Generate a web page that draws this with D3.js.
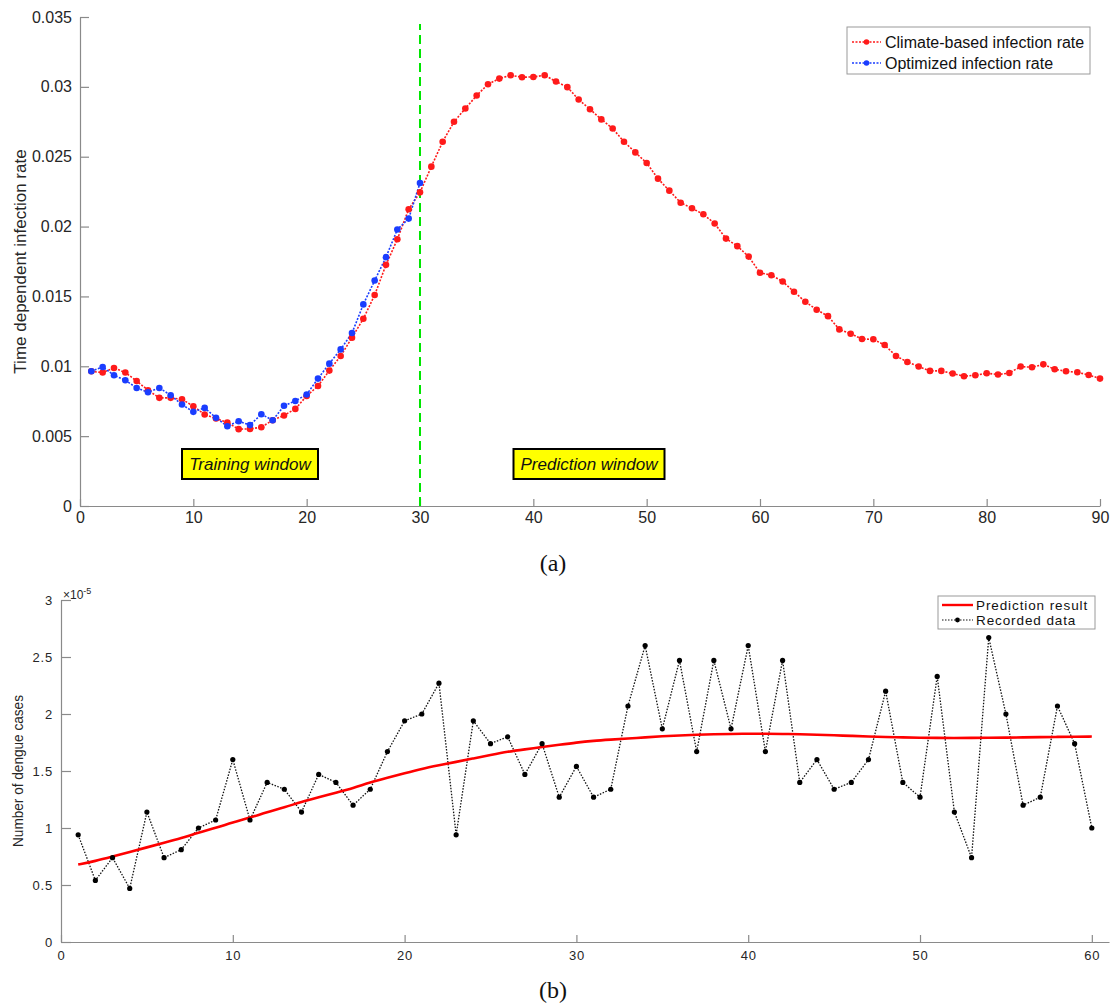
<!DOCTYPE html>
<html>
<head>
<meta charset="utf-8">
<script src="https://cdn.jsdelivr.net/npm/d3@7.9.0/dist/d3.min.js"></script>
<style>
  body { margin: 0; background: #fff; }
  svg { font-family: "Liberation Sans", Arial, sans-serif; }
</style>
</head>
<body>
<div id="chart"></div>
<script>
// ---- data, panel (a) ----
const daysA = d3.range(1, 91);
const daysTrain = d3.range(1, 31);
const climateRate = [
  0.00964, 0.00955, 0.00988, 0.00955, 0.00895, 0.00829, 0.00774, 0.00774, 0.00764, 0.00714,
  0.00655, 0.00626, 0.00598, 0.00550, 0.00552, 0.00564, 0.00614, 0.00648, 0.00695, 0.00788,
  0.00859, 0.00969, 0.01074, 0.01205, 0.01340, 0.01510, 0.01726, 0.01909, 0.02124, 0.02245,
  0.02429, 0.02607, 0.02750, 0.02845, 0.02938, 0.03019, 0.03059, 0.03083, 0.03069, 0.03071,
  0.03083, 0.03038, 0.02998, 0.02909, 0.02840, 0.02767, 0.02702, 0.02607, 0.02531, 0.02455,
  0.02343, 0.02257, 0.02171, 0.02131, 0.02088, 0.02022, 0.01914, 0.01860, 0.01785, 0.01669,
  0.01652, 0.01607, 0.01533, 0.01462, 0.01405, 0.01359, 0.01264, 0.01233, 0.01195, 0.01193,
  0.01152, 0.01074, 0.01031, 0.00998, 0.00967, 0.00967, 0.00948, 0.00929, 0.00936, 0.00950,
  0.00941, 0.00952, 0.00998, 0.00993, 0.01014, 0.00979, 0.00964, 0.00957, 0.00938, 0.00912
];
const optimizedRate = [
  0.00964, 0.00995, 0.00936, 0.00900, 0.00845, 0.00814, 0.00845, 0.00793, 0.00726, 0.00674,
  0.00702, 0.00631, 0.00571, 0.00607, 0.00579, 0.00657, 0.00614, 0.00717, 0.00752, 0.00798,
  0.00912, 0.01019, 0.01121, 0.01238, 0.01443, 0.01614, 0.01781, 0.01979, 0.02057, 0.02312
];
const ticksXA = [0, 10, 20, 30, 40, 50, 60, 70, 80, 90];
const ticksYA = [0, 0.005, 0.01, 0.015, 0.02, 0.025, 0.03, 0.035];
const splitDay = 30;

// ---- data, panel (b) (values in units of 1e-5) ----
const daysB = d3.range(1, 61);
const recorded = [
  0.94, 0.54, 0.74, 0.47, 1.14, 0.74, 0.81, 1.00, 1.07, 1.60,
  1.07, 1.40, 1.34, 1.14, 1.47, 1.40, 1.20, 1.34, 1.67, 1.94,
  2.00, 2.27, 0.94, 1.94, 1.74, 1.80, 1.47, 1.74, 1.27, 1.54,
  1.27, 1.34, 2.07, 2.60, 1.87, 2.47, 1.67, 2.47, 1.87, 2.60,
  1.67, 2.47, 1.40, 1.60, 1.34, 1.40, 1.60, 2.20, 1.40, 1.27,
  2.33, 1.14, 0.74, 2.67, 2.00, 1.20, 1.27, 2.07, 1.74, 1.00
];
const prediction = [
  0.68, 0.71, 0.75, 0.79, 0.83, 0.87, 0.91, 0.96, 1.00, 1.05,
  1.09, 1.14, 1.18, 1.23, 1.27, 1.31, 1.35, 1.40, 1.44, 1.48,
  1.52, 1.55, 1.58, 1.61, 1.64, 1.67, 1.69, 1.71, 1.73, 1.75,
  1.765, 1.775, 1.785, 1.795, 1.805, 1.812, 1.818, 1.822, 1.825, 1.827,
  1.827, 1.825, 1.822, 1.818, 1.813, 1.808, 1.803, 1.798, 1.795, 1.792,
  1.790, 1.790, 1.790, 1.791, 1.793, 1.795, 1.797, 1.799, 1.801, 1.802
];
const ticksXB = [0, 10, 20, 30, 40, 50, 60];
const ticksYB = [0, 0.5, 1, 1.5, 2, 2.5, 3];

const axisColor = "#8a8a8a";
const textColor = "#262626";

const svg = d3.select("#chart").append("svg")
  .attr("width", 1115)
  .attr("height", 1005);

// ================= panel (a) =================
const xA = d3.scaleLinear().domain([0, 90]).range([80, 1100]);
const yA = d3.scaleLinear().domain([0, 0.035]).range([506, 17]);

const gA = svg.append("g");

const axA = gA.append("g")
  .attr("transform", `translate(0,${yA(0)})`)
  .call(d3.axisBottom(xA).tickValues(ticksXA).tickSizeInner(-7).tickSizeOuter(0).tickPadding(12));
const ayA = gA.append("g")
  .attr("transform", `translate(${xA(0)},0)`)
  .call(d3.axisLeft(yA).tickValues(ticksYA).tickSizeInner(-9).tickSizeOuter(0).tickPadding(8)
    .tickFormat(d => d3.format("~g")(d)));
[axA, ayA].forEach(a => {
  a.select(".domain").attr("stroke", axisColor).attr("stroke-width", 1.2);
  a.selectAll(".tick line").attr("stroke", axisColor).attr("stroke-width", 1.2);
  a.selectAll(".tick text").attr("fill", textColor).attr("font-size", 16);
});
axA.selectAll(".tick text").attr("dy", "0.3em");

gA.append("text")
  .attr("transform", "rotate(-90)")
  .attr("x", -yA(0.0175))
  .attr("y", 26)
  .attr("text-anchor", "middle")
  .attr("font-size", 17)
  .attr("fill", textColor)
  .text("Time dependent infection rate");

// split line
gA.append("line")
  .attr("x1", xA(splitDay)).attr("x2", xA(splitDay))
  .attr("y1", yA(0)).attr("y2", yA(0.0345))
  .attr("stroke", "#00e600")
  .attr("stroke-width", 2)
  .attr("stroke-dasharray", "9,5");

const lineA = (vals) => d3.line().x((d, i) => xA(i + 1)).y(d => yA(d))(vals);

gA.append("path")
  .attr("d", lineA(climateRate))
  .attr("fill", "none").attr("stroke", "#ff1a1a")
  .attr("stroke-width", 1.6).attr("stroke-dasharray", "2,1.5");
gA.append("path")
  .attr("d", lineA(optimizedRate))
  .attr("fill", "none").attr("stroke", "#1a3dff")
  .attr("stroke-width", 1.6).attr("stroke-dasharray", "2,1.5");

gA.selectAll(".pc").data(climateRate).join("circle")
  .attr("cx", (d, i) => xA(daysA[i])).attr("cy", d => yA(d))
  .attr("r", 3.3).attr("fill", "#ff1a1a");
gA.selectAll(".po").data(optimizedRate).join("circle")
  .attr("cx", (d, i) => xA(daysTrain[i])).attr("cy", d => yA(d))
  .attr("r", 3.3).attr("fill", "#1a3dff");

// window labels
function tag(g, cx, cy, w, label) {
  g.append("rect")
    .attr("x", cx - w / 2).attr("y", cy - 15)
    .attr("width", w).attr("height", 30)
    .attr("fill", "#ffff00").attr("stroke", "#000").attr("stroke-width", 2);
  g.append("text")
    .attr("x", cx).attr("y", cy + 6)
    .attr("text-anchor", "middle")
    .attr("font-size", 17).attr("font-style", "italic")
    .attr("fill", "#111")
    .text(label);
}
tag(gA, 250, 464, 136, "Training window");
tag(gA, 589, 464, 151, "Prediction window");

// legend (a)
const legA = gA.append("g").attr("transform", "translate(847,27)");
legA.append("rect").attr("width", 243).attr("height", 47)
  .attr("fill", "#fff").attr("stroke", "#9a9a9a").attr("stroke-width", 1);
[["Climate-based infection rate", "#ff1a1a"], ["Optimized infection rate", "#1a3dff"]].forEach(([t, c], i) => {
  const y = 15 + i * 21;
  legA.append("line").attr("x1", 5).attr("x2", 34).attr("y1", y).attr("y2", y)
    .attr("stroke", c).attr("stroke-width", 1.5).attr("stroke-dasharray", "2,1.5");
  legA.append("circle").attr("cx", 19.5).attr("cy", y).attr("r", 2.8).attr("fill", c);
  legA.append("text").attr("x", 38).attr("y", y + 5.5)
    .attr("font-size", 16).attr("fill", "#111").text(t);
});

svg.append("text")
  .attr("x", 553).attr("y", 571)
  .attr("text-anchor", "middle")
  .attr("font-family", "'Liberation Serif', 'DejaVu Serif', serif")
  .attr("font-size", 24).attr("fill", "#111")
  .text("(a)");

// ================= panel (b) =================
const xB = d3.scaleLinear().domain([0, 61]).range([61, 1109]);
const yB = d3.scaleLinear().domain([0, 3]).range([942, 600]);

const gB = svg.append("g");

const axB = gB.append("g")
  .attr("transform", `translate(0,${yB(0)})`)
  .call(d3.axisBottom(xB).tickValues(ticksXB).tickSizeInner(-7).tickSizeOuter(0).tickPadding(9));
const ayB = gB.append("g")
  .attr("transform", `translate(${xB(0)},0)`)
  .call(d3.axisLeft(yB).tickValues(ticksYB).tickSizeInner(-10).tickSizeOuter(0).tickPadding(8)
    .tickFormat(d => d3.format("~g")(d)));
[axB, ayB].forEach(a => {
  a.select(".domain").attr("stroke", axisColor).attr("stroke-width", 1.2);
  a.selectAll(".tick line").attr("stroke", axisColor).attr("stroke-width", 1.2);
  a.selectAll(".tick text").attr("fill", textColor).attr("font-size", 13)
    .attr("letter-spacing", "0.8px");
});

gB.append("text")
  .attr("x", 63).attr("y", 599)
  .attr("font-size", 12).attr("fill", textColor)
  .html('×10<tspan dy="-5" font-size="9">-5</tspan>');

gB.append("text")
  .attr("transform", "rotate(-90)")
  .attr("x", -yB(1.5))
  .attr("y", 23)
  .attr("text-anchor", "middle")
  .attr("font-family", "'Liberation Sans Narrow', 'Liberation Sans', Arial, sans-serif")
  .attr("font-size", 14)
  .attr("fill", textColor)
  .attr("textLength", 152)
  .attr("lengthAdjust", "spacingAndGlyphs")
  .text("Number of dengue cases");

const lineB = d3.line().x((d, i) => xB(daysB[i])).y(d => yB(d));

gB.append("path")
  .attr("d", lineB(recorded))
  .attr("fill", "none").attr("stroke", "#111")
  .attr("stroke-width", 1.3).attr("stroke-dasharray", "1.5,1.5");
gB.append("path")
  .attr("d", d3.line().curve(d3.curveBasis).x((d, i) => xB(daysB[i])).y(d => yB(d))(prediction))
  .attr("fill", "none").attr("stroke", "#ff0000")
  .attr("stroke-width", 2.6);
gB.selectAll(".pr").data(recorded).join("circle")
  .attr("cx", (d, i) => xB(daysB[i])).attr("cy", d => yB(d))
  .attr("r", 2.6).attr("fill", "#000");

// legend (b)
const legB = gB.append("g").attr("transform", "translate(938,596)");
legB.append("rect").attr("width", 157).attr("height", 33)
  .attr("fill", "#fff").attr("stroke", "#9a9a9a").attr("stroke-width", 1);
legB.append("line").attr("x1", 4).attr("x2", 35).attr("y1", 9).attr("y2", 9)
  .attr("stroke", "#ff0000").attr("stroke-width", 2.4);
legB.append("line").attr("x1", 4).attr("x2", 35).attr("y1", 24).attr("y2", 24)
  .attr("stroke", "#111").attr("stroke-width", 1.2).attr("stroke-dasharray", "1.5,1.5");
legB.append("circle").attr("cx", 19.5).attr("cy", 24).attr("r", 2.4).attr("fill", "#000");
legB.append("text").attr("x", 38).attr("y", 13.5).attr("font-size", 13.5)
  .attr("fill", "#111").attr("letter-spacing", "0.9px").text("Prediction result");
legB.append("text").attr("x", 38).attr("y", 28.5).attr("font-size", 13.5)
  .attr("fill", "#111").attr("letter-spacing", "0.9px").text("Recorded data");

svg.append("text")
  .attr("x", 553).attr("y", 998)
  .attr("text-anchor", "middle")
  .attr("font-family", "'Liberation Serif', 'DejaVu Serif', serif")
  .attr("font-size", 24).attr("fill", "#111")
  .text("(b)");
</script>
</body>
</html>
